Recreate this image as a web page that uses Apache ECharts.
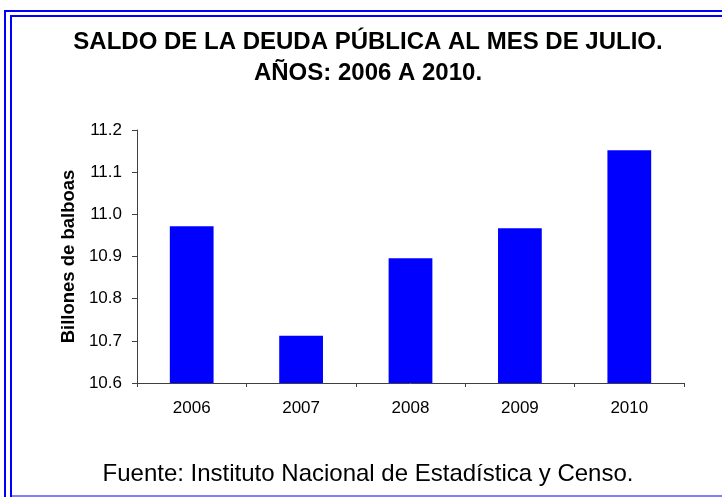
<!DOCTYPE html>
<html>
<head>
<meta charset="utf-8">
<script src="https://cdn.jsdelivr.net/npm/echarts@6/dist/echarts.min.js"></script>
<style>
  html, body { margin: 0; padding: 0; background: #fff; }
  #chart { width: 722px; height: 497px; }
</style>
</head>
<body>
<div id="chart"></div>
<script>
// datos
const years = ['2006', '2007', '2008', '2009', '2010'];
const saldo = [10.972, 10.712, 10.896, 10.967, 11.152];
const yTicks = [10.6, 10.7, 10.8, 10.9, 11.0, 11.1, 11.2];

const titleLines = ['SALDO DE LA DEUDA PÚBLICA AL MES DE JULIO.', 'AÑOS: 2006 A 2010.'];
const fuente = 'Fuente: Instituto Nacional de Estadística y Censo.';

const fontFam = '"Liberation Sans", Arial, sans-serif';

window.addEventListener('load', function () {
    const chart = echarts.init(document.getElementById('chart'));

    const option = {
        backgroundColor: '#fff',
        animation: false,
        textStyle: { fontFamily: fontFam },
        grid: {
            left: 137,
            right: 38,
            top: 130,
            bottom: 114
        },
        xAxis: {
            type: 'category',
            data: years,
            axisLine: { lineStyle: { color: '#404040', width: 1 } },
            axisTick: { show: true, length: 4, lineStyle: { color: '#404040' } },
            axisLabel: { color: '#000', fontSize: 17, margin: 17, fontFamily: fontFam }
        },
        yAxis: {
            type: 'value',
            min: yTicks[0],
            max: yTicks[yTicks.length - 1],
            interval: 0.1,
            name: 'Billones de balboas',
            nameLocation: 'middle',
            nameRotate: 90,
            nameGap: 59,
            nameTextStyle: { color: '#000', fontSize: 18.5, fontWeight: 'bold', fontFamily: fontFam },
            axisLine: { show: true, lineStyle: { color: '#404040', width: 1 } },
            axisTick: { show: true, length: 5, lineStyle: { color: '#404040' } },
            splitLine: { show: false },
            axisLabel: {
                color: '#000',
                fontSize: 17,
                margin: 15,
                fontFamily: fontFam,
                formatter: v => v.toFixed(1)
            }
        },
        series: [
            {
                type: 'bar',
                data: saldo,
                barCategoryGap: '60%',
                itemStyle: { color: '#0000ff' }
            }
        ],
        graphic: [
            // marco doble azul
            { type: 'rect', shape: { x: 4, y: 10, width: 2, height: 487 }, style: { fill: '#0000ff' }, silent: true },
            { type: 'rect', shape: { x: 4, y: 10, width: 718, height: 2 }, style: { fill: '#0000ff' }, silent: true },
            { type: 'rect', shape: { x: 10, y: 15, width: 2, height: 482 }, style: { fill: '#0000ff' }, silent: true },
            { type: 'rect', shape: { x: 10, y: 15, width: 712, height: 2 }, style: { fill: '#0000ff' }, silent: true },
            { type: 'rect', shape: { x: 12, y: 495, width: 710, height: 2 }, style: { fill: '#8080ff' }, silent: true },
            {
                type: 'text', x: 368, y: 42,
                style: { text: titleLines[0], fill: '#000', font: 'bold 24px ' + fontFam, align: 'center', verticalAlign: 'middle' }
            },
            {
                type: 'text', x: 368, y: 73,
                style: { text: titleLines[1], fill: '#000', font: 'bold 24px ' + fontFam, align: 'center', verticalAlign: 'middle' }
            },
            {
                type: 'text', x: 368, y: 474,
                style: { text: fuente, fill: '#000', font: '24px ' + fontFam, align: 'center', verticalAlign: 'middle' }
            }
        ]
    };

    chart.setOption(option);
});
</script>
</body>
</html>
